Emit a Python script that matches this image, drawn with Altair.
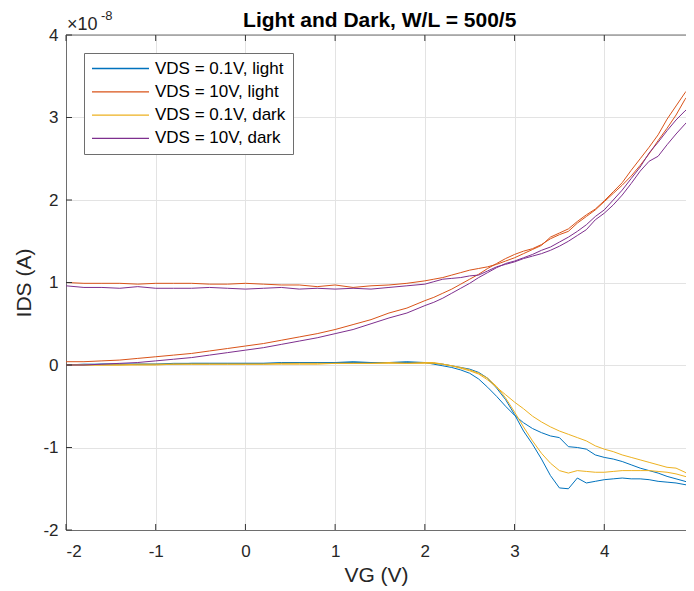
import altair as alt
import pandas as pd

# ---------------- data (IDS in units of 1e-8 A) ----------------
VG = [-2.0, -1.8, -1.6, -1.4, -1.2, -1.0, -0.8, -0.6, -0.4, -0.2, 0.0,
      0.2, 0.4, 0.6, 0.8, 1.0, 1.2, 1.4, 1.6, 1.8, 2.0,
      2.1, 2.2, 2.3, 2.4, 2.5, 2.6, 2.7, 2.8, 2.9, 3.0,
      3.1, 3.2, 3.3, 3.4, 3.5, 3.6, 3.7, 3.8, 3.9, 4.0,
      4.1, 4.2, 4.3, 4.4, 4.5, 4.6, 4.7, 4.8, 4.9, 5.0]

SERIES = ["VDS = 0.1V, light", "VDS = 10V, light", "VDS = 0.1V, dark", "VDS = 10V, dark"]
COLORS = ["#0072BD", "#D95319", "#EDB120", "#7E2F8E"]
TITLE = "Light and Dark, W/L = 500/5"

# forward sweep (-2 -> 5) and reverse sweep (5 -> -2), both listed in ascending VG
blue_fwd = [0.00, 0.00, 0.01, 0.01, 0.01, 0.01, 0.01, 0.02, 0.02, 0.02, 0.02,
            0.02, 0.02, 0.03, 0.03, 0.03, 0.03, 0.03, 0.03, 0.03, 0.03,
            0.02, 0.01, -0.01, -0.03, -0.05, -0.09, -0.16, -0.28, -0.42, -0.60,
            -0.80, -0.96, -1.14, -1.34, -1.49, -1.50, -1.37, -1.43, -1.41, -1.39,
            -1.38, -1.37, -1.38, -1.38, -1.39, -1.41, -1.42, -1.43, -1.45, -1.47]
blue_rev = [0.00, 0.01, 0.01, 0.01, 0.01, 0.01, 0.02, 0.02, 0.02, 0.02, 0.02,
            0.02, 0.03, 0.03, 0.03, 0.03, 0.04, 0.03, 0.03, 0.04, 0.03,
            0.01, -0.01, -0.03, -0.06, -0.10, -0.17, -0.27, -0.38, -0.50, -0.61,
            -0.70, -0.77, -0.82, -0.86, -0.88, -0.99, -1.00, -1.02, -1.09, -1.12,
            -1.14, -1.17, -1.21, -1.25, -1.28, -1.31, -1.35, -1.38, -1.41, -1.45]
orange_fwd = [0.04, 0.04, 0.05, 0.06, 0.08, 0.10, 0.12, 0.14, 0.17, 0.20, 0.23,
              0.26, 0.30, 0.34, 0.38, 0.43, 0.49, 0.55, 0.63, 0.69, 0.78,
              0.82, 0.87, 0.92, 0.98, 1.04, 1.10, 1.17, 1.23, 1.29, 1.34,
              1.38, 1.41, 1.46, 1.53, 1.58, 1.62, 1.72, 1.80, 1.88, 1.98,
              2.08, 2.18, 2.29, 2.42, 2.56, 2.72, 2.87, 3.03, 3.22, 3.36]
orange_rev = [1.00, 0.99, 0.99, 0.99, 0.98, 0.99, 0.99, 0.99, 0.98, 0.98, 0.99,
              0.98, 0.97, 0.97, 0.95, 0.97, 0.94, 0.96, 0.97, 0.99, 1.02,
              1.04, 1.06, 1.09, 1.12, 1.15, 1.17, 1.19, 1.22, 1.26, 1.30,
              1.35, 1.40, 1.45, 1.55, 1.60, 1.65, 1.74, 1.82, 1.89, 1.99,
              2.10, 2.21, 2.36, 2.50, 2.64, 2.79, 2.98, 3.14, 3.30, 3.42]
yellow_fwd = [0.00, 0.00, 0.00, 0.00, 0.00, 0.00, 0.01, 0.01, 0.01, 0.01, 0.01,
              0.01, 0.01, 0.01, 0.01, 0.02, 0.02, 0.02, 0.02, 0.02, 0.02,
              0.02, 0.01, -0.01, -0.03, -0.06, -0.10, -0.16, -0.26, -0.40, -0.57,
              -0.75, -0.92, -1.07, -1.19, -1.28, -1.31, -1.28, -1.29, -1.30, -1.30,
              -1.29, -1.28, -1.28, -1.28, -1.28, -1.29, -1.30, -1.32, -1.35, -1.38]
yellow_rev = [0.00, 0.00, 0.00, 0.00, 0.01, 0.01, 0.01, 0.01, 0.01, 0.01, 0.01,
              0.01, 0.02, 0.02, 0.02, 0.02, 0.02, 0.02, 0.03, 0.02, 0.03,
              0.03, 0.01, -0.01, -0.04, -0.07, -0.11, -0.18, -0.27, -0.36, -0.45,
              -0.53, -0.62, -0.69, -0.75, -0.80, -0.84, -0.88, -0.92, -0.98, -1.02,
              -1.05, -1.09, -1.12, -1.15, -1.18, -1.21, -1.24, -1.25, -1.30, -1.37]
purple_fwd = [0.00, 0.00, 0.01, 0.02, 0.03, 0.05, 0.07, 0.09, 0.12, 0.15, 0.18,
              0.21, 0.25, 0.29, 0.33, 0.38, 0.43, 0.50, 0.57, 0.63, 0.72,
              0.76, 0.81, 0.87, 0.93, 0.99, 1.06, 1.12, 1.18, 1.23, 1.26,
              1.30, 1.34, 1.39, 1.43, 1.49, 1.55, 1.62, 1.70, 1.80, 1.88,
              2.00, 2.12, 2.26, 2.40, 2.57, 2.70, 2.84, 2.97, 3.08, 3.17]
purple_rev = [0.96, 0.94, 0.94, 0.93, 0.95, 0.93, 0.93, 0.93, 0.94, 0.93, 0.92,
              0.93, 0.94, 0.92, 0.93, 0.92, 0.93, 0.92, 0.94, 0.96, 0.98,
              1.01, 1.04, 1.05, 1.06, 1.08, 1.09, 1.14, 1.19, 1.22, 1.25,
              1.29, 1.32, 1.35, 1.39, 1.44, 1.50, 1.57, 1.64, 1.76, 1.84,
              1.94, 2.06, 2.20, 2.35, 2.47, 2.53, 2.67, 2.80, 2.92, 3.04]

X_TICKS = [-2, -1, 0, 1, 2, 3, 4, 5]
Y_TICKS = [-2, -1, 0, 1, 2, 3, 4]

# ---------------- build table ----------------
branches = {
    SERIES[0]: (blue_fwd, blue_rev),
    SERIES[1]: (orange_fwd, orange_rev),
    SERIES[2]: (yellow_fwd, yellow_rev),
    SERIES[3]: (purple_fwd, purple_rev),
}
rows = []
for s, (fwd, rev) in branches.items():
    n = len(VG)
    for i in range(n):
        rows.append({"series": s, "VG": VG[i], "IDS": fwd[i], "ord": i})
    for j, i in enumerate(range(n - 1, -1, -1)):
        rows.append({"series": s, "VG": VG[i], "IDS": rev[i], "ord": n + j})
df = pd.DataFrame(rows)

# the page is 694 px wide; the plot's right edge (VG = 5) sits at the window edge,
# so the visible part of the x range ends a little before 5
W, H = 620, 495
FULL_W = 627.5
FONT = "Liberation Sans"
FRAME = "#6e6e6e"

xscale = alt.Scale(domain=[-2, 4.911], nice=False, zero=False)
yscale = alt.Scale(domain=[-2, 4], nice=False, zero=False)

lines = alt.Chart(df).mark_line(strokeWidth=1.0, clip=True).encode(
    x=alt.X("VG:Q", scale=xscale,
            axis=alt.Axis(values=X_TICKS, title="VG (V)", grid=True, ticks=False,
                          domain=True, labelPadding=13, titlePadding=5,
                          labelExpr="'' + datum.value")),
    y=alt.Y("IDS:Q", scale=yscale,
            axis=alt.Axis(values=Y_TICKS, title="IDS (A)", grid=True, ticks=False,
                          domain=True, labelPadding=8, titleX=-32, titleY=H / 2,
                          labelExpr="'' + datum.value")),
    color=alt.Color("series:N",
                    scale=alt.Scale(domain=SERIES, range=COLORS),
                    sort=SERIES,
                    legend=alt.Legend(title=None, orient="none", legendX=18, legendY=18,
                                      symbolType="stroke", symbolSize=3249,
                                      symbolStrokeWidth=1.3, labelFontSize=17,
                                      labelFont=FONT, labelColor="#000000",
                                      clipHeight=17, rowPadding=5.3, padding=7,
                                      labelOffset=5, fillColor="white",
                                      strokeColor=FRAME, cornerRadius=0)),
    detail="series:N",
    order="ord:Q",
)

xt = pd.DataFrame({"VG": X_TICKS[:-1]})
yt = pd.DataFrame({"IDS": Y_TICKS})
TC = "#333333"
xtop = alt.Chart(xt).mark_rule(color=TC, strokeWidth=1).encode(
    x=alt.X("VG:Q", scale=xscale), y=alt.value(0), y2=alt.value(6))
xbot = alt.Chart(xt).mark_rule(color=TC, strokeWidth=1).encode(
    x=alt.X("VG:Q", scale=xscale), y=alt.value(H - 6), y2=alt.value(H))
yleft = alt.Chart(yt).mark_rule(color=TC, strokeWidth=1).encode(
    y=alt.Y("IDS:Q", scale=yscale), x=alt.value(0), x2=alt.value(6))
topframe = alt.Chart(pd.DataFrame({"IDS": [Y_TICKS[-1]]})).mark_rule(
    color=FRAME, strokeWidth=1).encode(
    y=alt.Y("IDS:Q", scale=yscale), x=alt.value(0), x2=alt.value(W))

title_mark = alt.Chart(pd.DataFrame({"t": [TITLE]})).mark_text(
    align="center", baseline="alphabetic", fontSize=21, font=FONT,
    fontWeight="bold", color="#000000"
).encode(text="t:N", x=alt.value(FULL_W / 2), y=alt.value(-8))

exp_base = alt.Chart(pd.DataFrame({"t": ["×10"]})).mark_text(
    align="left", baseline="alphabetic", fontSize=18, font=FONT, color="#262626"
).encode(text="t:N", x=alt.value(1), y=alt.value(-5))
exp_pow = alt.Chart(pd.DataFrame({"t": ["-8"]})).mark_text(
    align="left", baseline="alphabetic", fontSize=13, font=FONT, color="#262626"
).encode(text="t:N", x=alt.value(35), y=alt.value(-15))

chart = alt.layer(lines, topframe, xtop, xbot, yleft,
                  title_mark, exp_base, exp_pow).properties(
    width=W, height=H,
    autosize=alt.AutoSizeParams(type="none"),
    padding={"left": 58, "top": 27, "right": 0, "bottom": 61},
).configure_view(
    stroke=None
).configure_axis(
    labelFont=FONT, titleFont=FONT, labelFontSize=17, titleFontSize=21,
    labelColor="#262626", titleColor="#262626", titleFontWeight="normal",
    gridColor="#e3e3e3", gridWidth=1, domainColor=FRAME, domainWidth=1
)

chart.save("out.html", embed_options={"renderer": "svg", "actions": False})
